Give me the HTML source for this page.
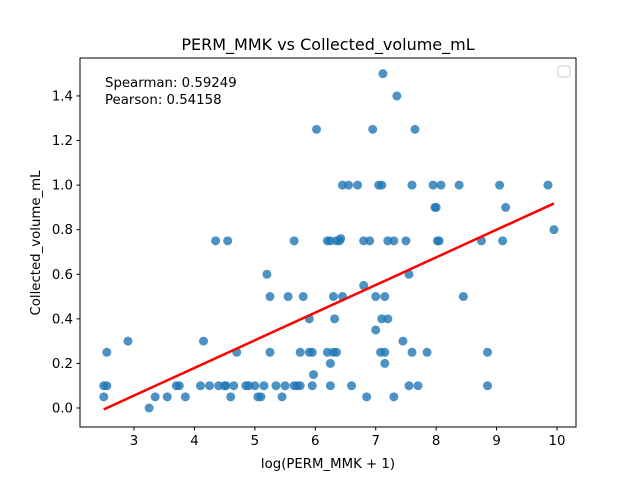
<!DOCTYPE html>
<html><head><meta charset="utf-8"><style>
body{margin:0;background:#fff;}
svg{display:block;font-family:"DejaVu Sans","Liberation Sans",sans-serif;}
</style></head><body>
<svg id="chart" width="640" height="480" viewBox="0 0 640 480" xmlns="http://www.w3.org/2000/svg">
<rect width="640" height="480" fill="#fff"/>
<text x="328" y="50" text-anchor="middle" font-size="16">PERM_MMK vs Collected_volume_mL</text>
<text x="328" y="468" text-anchor="middle" font-size="13.3">log(PERM_MMK + 1)</text>
<text transform="translate(40,243) rotate(-90)" text-anchor="middle" font-size="13.3">Collected_volume_mL</text>
<text x="105" y="87" font-size="13.3">Spearman: 0.59249</text>
<text x="105" y="104" font-size="13.3">Pearson: 0.54158</text>
<g id="ticks"></g>
<g id="points"></g>
<g id="fit"></g>
<rect x="80" y="58" width="496" height="369" fill="none" stroke="#000" stroke-width="1"/>
<rect x="558" y="66" width="12" height="11" rx="2" fill="#fff" stroke="#ccc"/>
</svg>
<script>
const xVals=[2.5,2.55,2.5,2.55,2.9,3.25,3.35,3.55,3.7,3.75,3.85,4.15,4.1,4.25,4.35,4.4,4.5,4.52,4.55,4.6,4.65,4.7,4.85,4.9,5.0,5.05,5.1,5.15,5.2,5.25,5.25,5.35,5.45,5.5,5.55,5.65,5.65,5.7,5.75,5.75,5.8,5.9,5.9,5.95,5.95,5.97,6.02,6.2,6.2,6.25,6.25,6.25,6.3,6.3,6.35,6.35,6.32,6.4,6.42,6.45,6.45,6.55,6.6,6.7,6.8,6.8,6.85,6.9,6.95,7.0,7.0,7.05,7.08,7.1,7.1,7.12,7.15,7.15,7.15,7.2,7.2,7.3,7.3,7.35,7.45,7.5,7.55,7.55,7.6,7.6,7.65,7.7,7.85,7.95,7.98,8.0,8.02,8.05,8.08,8.38,8.45,8.75,8.85,8.85,9.05,9.1,9.15,9.85,9.95];
const yVals=[0.1,0.1,0.05,0.25,0.3,0.0,0.05,0.05,0.1,0.1,0.05,0.3,0.1,0.1,0.75,0.1,0.1,0.1,0.75,0.05,0.1,0.25,0.1,0.1,0.1,0.05,0.05,0.1,0.6,0.5,0.25,0.1,0.05,0.1,0.5,0.1,0.75,0.1,0.1,0.25,0.5,0.4,0.25,0.25,0.1,0.15,1.25,0.25,0.75,0.75,0.2,0.1,0.5,0.25,0.75,0.25,0.4,0.75,0.76,0.5,1.0,1.0,0.1,1.0,0.75,0.55,0.05,0.75,1.25,0.5,0.35,1.0,0.25,1.0,0.4,1.5,0.25,0.2,0.5,0.4,0.75,0.75,0.05,1.4,0.3,0.75,0.6,0.1,1.0,0.25,1.25,0.1,0.25,1.0,0.9,0.9,0.75,0.75,1.0,1.0,0.5,0.75,0.25,0.1,1.0,0.75,0.9,1.0,0.8];
const xTicks=[3,4,5,6,7,8,9,10];
const yTicks=[0.0,0.2,0.4,0.6,0.8,1.0,1.2,1.4];
const X=v=>134+(v-3)*60.43;
const Y=v=>408-v*222.9;
const NS="http://www.w3.org/2000/svg";
const tk=document.getElementById('ticks');
xTicks.forEach(t=>{
 const l=document.createElementNS(NS,'line');
 
 
 l.setAttribute('x1',X(t));l.setAttribute('x2',X(t));l.setAttribute('y1',427);l.setAttribute('y2',430.5);l.setAttribute('stroke','#000');tk.appendChild(l);
 const s=document.createElementNS(NS,'text');
 
 
 s.setAttribute('x',X(t));s.setAttribute('y',445);s.setAttribute('text-anchor','middle');s.setAttribute('font-size','13.3');s.textContent=t;tk.appendChild(s);
});
yTicks.forEach(t=>{
 const l=document.createElementNS(NS,'line');
 
 
 l.setAttribute('x1',76.5);l.setAttribute('x2',80);l.setAttribute('y1',Y(t));l.setAttribute('y2',Y(t));l.setAttribute('stroke','#000');tk.appendChild(l);
 const s=document.createElementNS(NS,'text');
 
 
 s.setAttribute('x',73);s.setAttribute('y',Y(t)+4.5);s.setAttribute('text-anchor','end');s.setAttribute('font-size','13.3');s.textContent=t.toFixed(1);tk.appendChild(s);
});
const pg=document.getElementById('points');
xVals.forEach((x,i)=>{
 const c=document.createElementNS(NS,'circle');
 
 
 c.setAttribute('cx',X(x));c.setAttribute('cy',Y(yVals[i]));c.setAttribute('r',4.5);c.setAttribute('fill','#1f77b4');c.setAttribute('fill-opacity','0.8');pg.appendChild(c);
});
const n=xVals.length;
const mx=xVals.reduce((a,b)=>a+b,0)/n, my=yVals.reduce((a,b)=>a+b,0)/n;
let sxy=0,sxx=0;xVals.forEach((x,i)=>{sxy+=(x-mx)*(yVals[i]-my);sxx+=(x-mx)**2;});
const slope=sxy/sxx, icpt=my-slope*mx;
const x0=Math.min(...xVals), x1=Math.max(...xVals);
const fl=document.createElementNS(NS,'line');


fl.setAttribute('x1',X(x0));fl.setAttribute('y1',Y(icpt+slope*x0));fl.setAttribute('x2',X(x1));fl.setAttribute('y2',Y(icpt+slope*x1));
fl.setAttribute('stroke','#ff0000');fl.setAttribute('stroke-width','2.5');
document.getElementById('fit').appendChild(fl);
</script>
</body></html>
